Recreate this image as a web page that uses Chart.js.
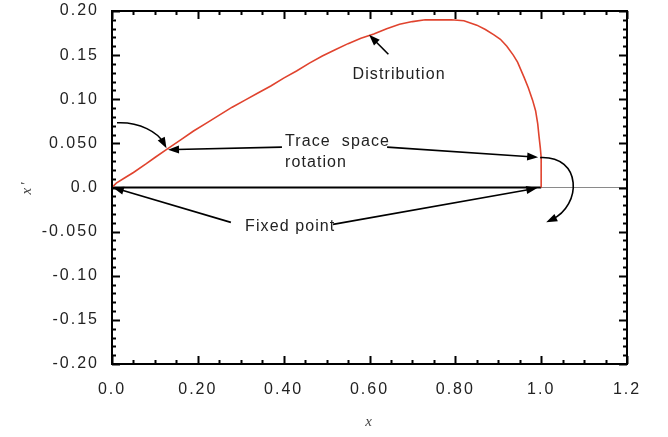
<!DOCTYPE html>
<html>
<head>
<meta charset="utf-8">
<script src="https://cdn.jsdelivr.net/npm/chart.js@4.4.1/dist/chart.umd.min.js"></script>
<style>
  html, body { margin: 0; padding: 0; background: #fff; }
  #wrap { width: 668px; height: 437px; }
</style>
</head>
<body>
<div id="wrap"><canvas id="phaseChart" width="668" height="437"></canvas></div>
<script>
// distribution after the trace space rotation
var distX = [0, 0.01, 0.03, 0.05, 0.08, 0.10, 0.13, 0.16, 0.19, 0.22, 0.25, 0.28, 0.31, 0.34, 0.37,
  0.40, 0.43, 0.46, 0.49, 0.52, 0.55, 0.58, 0.61, 0.64, 0.67, 0.70, 0.73, 0.76, 0.79, 0.82,
  0.85, 0.87, 0.89, 0.905, 0.92, 0.935, 0.945, 0.96, 0.97, 0.98, 0.987, 0.992, 0.995, 0.998, 1.0, 1.0];
var distY = [0, 0.005, 0.011, 0.017, 0.027, 0.034, 0.044, 0.054, 0.064, 0.073, 0.082, 0.091, 0.099, 0.107, 0.115,
  0.124, 0.132, 0.141, 0.149, 0.156, 0.163, 0.169, 0.174, 0.180, 0.185, 0.188, 0.190, 0.190, 0.190, 0.189,
  0.184, 0.179, 0.173, 0.168, 0.160, 0.150, 0.142, 0.125, 0.113, 0.099, 0.087, 0.072, 0.058, 0.045, 0.034, 0];

// initial distribution along x' = 0 and the zero line
var startX = [0, 1.0];
var zeroX = [0, 1.2];

var xTickLabels = ["0.0", "0.20", "0.40", "0.60", "0.80", "1.0", "1.2"];
var yTickLabels = ["-0.20", "-0.15", "-0.10", "-0.050", "0.0", "0.050", "0.10", "0.15", "0.20"];

// annotation arrows in data units: [tailX, tailY, tipX, tipY]
var arrows = [
  [0.644, 0.151, 0.599, 0.173],
  [0.396, 0.0457, 0.1305, 0.0429],
  [0.641, 0.0457, 0.993, 0.0342],
  [0.277, -0.0395, 0.002, 0],
  [0.515, -0.0418, 0.991, -0.0006]
];
// curved arrows: start, control points, tip
var curves = [
  [0.0117, 0.0733, 0.0653, 0.0745, 0.1072, 0.0621, 0.127, 0.0445],
  [0.9977, 0.0339, 1.0956, 0.0361, 1.0956, -0.0203, 1.0117, -0.0395]
];
var notes = [
  { text: "Distribution", x: 0.669, y: 0.128, align: "center" },
  { text: "Trace  space", x: 0.403, y: 0.0515, align: "left" },
  { text: "rotation", x: 0.403, y: 0.0282, align: "left" },
  { text: "Fixed point", x: 0.31, y: -0.0440, align: "left" }
];

function pts(xs, ys) {
  return xs.map(function (v, i) { return { x: v, y: ys[i] }; });
}

function arrowHead(ctx, x, y, ang) {
  var len = 11, half = 4;
  ctx.beginPath();
  ctx.moveTo(x, y);
  ctx.lineTo(x - len * Math.cos(ang) + half * Math.sin(ang), y - len * Math.sin(ang) - half * Math.cos(ang));
  ctx.lineTo(x - len * Math.cos(ang) - half * Math.sin(ang), y - len * Math.sin(ang) + half * Math.cos(ang));
  ctx.closePath();
  ctx.fill();
}

const frameTicks = {
  id: "frameTicks",
  beforeDraw(chart) {
    chart.ctx.letterSpacing = "2px";
  },
  afterDraw(chart) {
    const { ctx, chartArea: a, scales: { x, y } } = chart;
    ctx.save();
    ctx.strokeStyle = "#000";
    ctx.lineWidth = 2;
    ctx.strokeRect(a.left, a.top, a.right - a.left, a.bottom - a.top);
    ctx.beginPath();
    for (let i = 0; i <= 24; i++) {
      const px = Math.round(x.getPixelForValue(i * 0.05)) + 0.5;
      const l = i % 4 === 0 ? 8 : 4;
      ctx.moveTo(px, a.bottom); ctx.lineTo(px, a.bottom - l);
      ctx.moveTo(px, a.top); ctx.lineTo(px, a.top + l);
    }
    for (let i = 0; i <= 40; i++) {
      const py = Math.round(y.getPixelForValue(-0.2 + i * 0.01)) + 0.5;
      const l = i % 5 === 0 ? 8 : 4;
      ctx.moveTo(a.left, py); ctx.lineTo(a.left + l, py);
      ctx.moveTo(a.right, py); ctx.lineTo(a.right - l, py);
    }
    ctx.stroke();
    ctx.restore();
  },
  afterDatasetsDraw(chart) {
    const { ctx, scales: { x, y } } = chart;
    ctx.save();
    ctx.strokeStyle = "#000";
    ctx.fillStyle = "#000";
    ctx.lineWidth = 1.6;
    arrows.forEach(function (r) {
      const x1 = x.getPixelForValue(r[0]), y1 = y.getPixelForValue(r[1]);
      const x2 = x.getPixelForValue(r[2]), y2 = y.getPixelForValue(r[3]);
      const ang = Math.atan2(y2 - y1, x2 - x1);
      ctx.beginPath();
      ctx.moveTo(x1, y1);
      ctx.lineTo(x2 - 8 * Math.cos(ang), y2 - 8 * Math.sin(ang));
      ctx.stroke();
      arrowHead(ctx, x2, y2, ang);
    });
    curves.forEach(function (c) {
      const p = [];
      for (let i = 0; i < 8; i += 2) p.push([x.getPixelForValue(c[i]), y.getPixelForValue(c[i + 1])]);
      const ang = Math.atan2(p[3][1] - p[2][1], p[3][0] - p[2][0]);
      ctx.beginPath();
      ctx.moveTo(p[0][0], p[0][1]);
      ctx.bezierCurveTo(p[1][0], p[1][1], p[2][0], p[2][1], p[3][0] - 6 * Math.cos(ang), p[3][1] - 6 * Math.sin(ang));
      ctx.stroke();
      arrowHead(ctx, p[3][0], p[3][1], ang);
    });
    ctx.letterSpacing = "1.1px";
    ctx.font = "16px 'Liberation Sans', Arial, sans-serif";
    ctx.fillStyle = "#222";
    ctx.textBaseline = "middle";
    notes.forEach(function (n) {
      ctx.textAlign = n.align;
      ctx.fillText(n.text, x.getPixelForValue(n.x), y.getPixelForValue(n.y));
    });
    ctx.restore();
  }
};

const tickFont = { family: "'Liberation Sans', Arial, sans-serif", size: 16 };
const titleFont = { family: "'Liberation Serif', 'Times New Roman', serif", style: "italic", size: 15 };

new Chart(document.getElementById("phaseChart"), {
  type: "line",
  data: {
    datasets: [
      { data: pts(distX, distY), borderColor: "#e0432e", borderWidth: 1.6 },
      { data: pts(startX, [0, 0]), borderColor: "#000", borderWidth: 2 },
      { data: pts(zeroX, [0, 0]), borderColor: "#8a8a8a", borderWidth: 1.2 }
    ]
  },
  options: {
    responsive: false,
    animation: false,
    layout: { padding: { top: 11, right: 41, left: 0, bottom: 0 } },
    elements: { point: { radius: 0 }, line: { tension: 0 } },
    plugins: { legend: { display: false }, tooltip: { enabled: false } },
    scales: {
      x: {
        type: "linear", min: 0, max: 1.2,
        grid: { display: false, drawTicks: false },
        border: { display: false },
        ticks: {
          stepSize: 0.2, padding: 16, color: "#222", font: tickFont, maxRotation: 0, autoSkip: false,
          callback: function (v, i) { return xTickLabels[i]; }
        },
        title: { display: true, text: "x", color: "#444", font: titleFont, padding: { top: 6, bottom: 6 } },
        afterFit: function (s) { s.height = 73; s.paddingLeft = 0; s.paddingRight = 0; }
      },
      y: {
        type: "linear", min: -0.2, max: 0.2,
        grid: { display: false, drawTicks: false },
        border: { display: false },
        ticks: {
          stepSize: 0.05, padding: 13, color: "#222", font: tickFont, autoSkip: false,
          callback: function (v, i) { return yTickLabels[i]; }
        },
        title: { display: true, text: "x\u2032", color: "#444", font: titleFont, padding: { top: 18, bottom: 18 } },
        afterFit: function (s) { s.width = 112; s.paddingTop = 0; s.paddingBottom = 0; }
      }
    }
  },
  plugins: [frameTicks]
});
</script>
</body>
</html>
